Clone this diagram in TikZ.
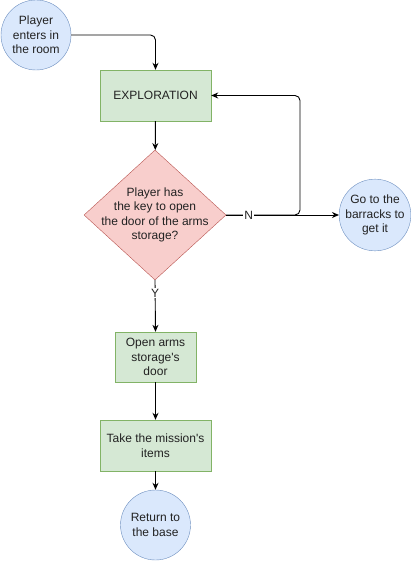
\documentclass[tikz,border=0pt]{standalone}
\usepackage{fontspec}
\setmainfont{Liberation Sans}
\usetikzlibrary{shapes.geometric,arrows.meta}
\definecolor{bluefill}{HTML}{DAE8FC}
\definecolor{bluedraw}{HTML}{6C8EBF}
\definecolor{greenfill}{HTML}{D5E8D4}
\definecolor{greendraw}{HTML}{82B366}
\definecolor{redfill}{HTML}{F8CECC}
\definecolor{reddraw}{HTML}{B85450}
\definecolor{txt}{HTML}{222222}
\begin{document}
\begin{tikzpicture}[x=1pt,y=-1pt,
  every node/.style={font=\fontsize{12}{14.5}\selectfont, text=txt, align=center},
  term/.style={circle, draw=bluedraw, fill=bluefill, minimum size=70pt, inner sep=0pt},
  proc/.style={rectangle, draw=greendraw, fill=greenfill, inner sep=0pt},
  decide/.style={diamond, draw=reddraw, fill=redfill, inner sep=0pt, minimum width=142pt, minimum height=130pt},
  conn/.style={draw=black, line width=0.9pt, -{Stealth[length=7pt,width=6pt]}},
  lbl/.style={fill=white, inner sep=1pt}]
\useasboundingbox (0,0) rectangle (411,561);
\node[term] (start) at (36,35) {Player\\enters in\\the room};
\node[proc, minimum width=111pt, minimum height=51pt] (expl) at (155.5,95.5) {EXPLORATION};
\node[decide, label={center:{Player has\\the key to open\\the door of the arms\\storage?}}] (d) at (155,215) {};
\node[term] (barr) at (375,215) {Go to the\\barracks to\\get it};
\node[proc, minimum width=81pt, minimum height=50pt] (open) at (155.5,357) {Open arms\\storage\textquotesingle s\\door};
\node[proc, minimum width=111pt, minimum height=51pt] (take) at (155.5,445.5) {Take the mission\textquotesingle s\\items};
\node[term] (ret) at (155.5,525) {Return to\\the base};
\coordinate (loop) at (300,95.5);
\draw[conn, rounded corners=5pt] (start.east) -| (expl.north);
\draw[conn] (expl) -- (d);
\draw[conn, rounded corners=5pt] (d.east) -| (loop) -- (expl.east);
\draw[conn] (d.east) -- node[lbl, pos=0.2] {N} (barr.west);
\draw[conn] (d.south) -- node[lbl, pos=0.25] {Y} (open.north);
\draw[conn] (open) -- (take);
\draw[conn] (take) -- (ret);
\end{tikzpicture}
\end{document}
